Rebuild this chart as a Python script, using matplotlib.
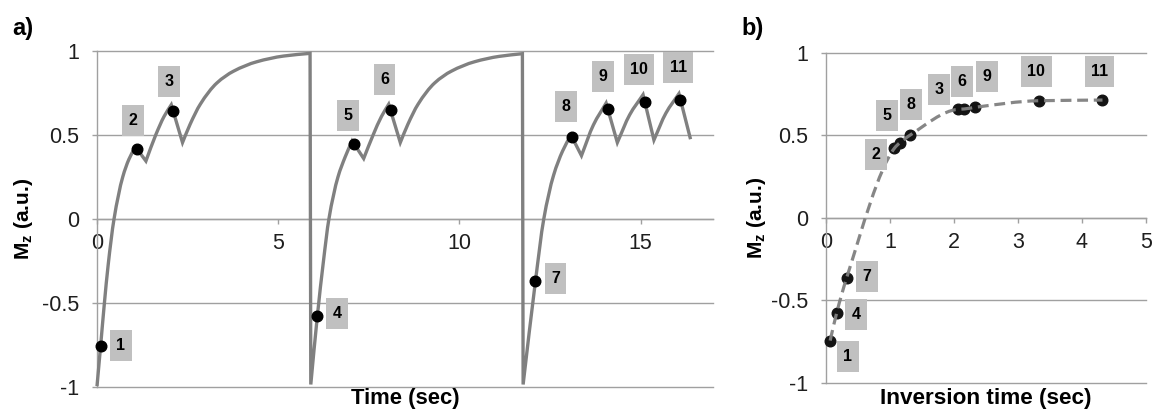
import matplotlib
matplotlib.use('Agg')
import matplotlib.pyplot as plt
from matplotlib.path import Path
from matplotlib.patches import PathPatch
import numpy as np

plt.rcParams['font.family'] = ['Liberation Sans', 'DejaVu Sans']
plt.rcParams['mathtext.fontset'] = 'custom'
plt.rcParams['mathtext.rm'] = 'Liberation Sans'
plt.rcParams['mathtext.bf'] = 'Liberation Sans:bold'
plt.rcParams['mathtext.it'] = 'Liberation Sans:italic'
plt.rcParams['axes.unicode_minus'] = False

# ---------------- data ----------------
# Panel a: simulated longitudinal magnetisation over three inversion cycles
curve_time = [0.0, 0.1, 0.2, 0.31, 0.47, 0.71, 0.88, 1.06, 1.35, 1.62, 1.85, 2.05, 2.36, 2.57, 2.85,
              3.31, 3.77, 4.41, 5.15, 5.88,
              5.9, 6.08, 6.25, 6.40, 6.65, 6.85, 7.04, 7.36, 7.62, 7.85, 8.05, 8.37, 8.58, 8.86,
              9.32, 9.78, 10.42, 11.1, 11.74,
              11.76, 12.1, 12.33, 12.6, 12.85, 13.08, 13.37, 13.7, 14.05, 14.36, 14.7, 15.07,
              15.37, 15.7, 16.06, 16.38]
curve_mz = [-0.995, -0.755, -0.51, -0.27, 0.0, 0.25, 0.355, 0.43, 0.345, 0.5, 0.61, 0.68, 0.455, 0.564, 0.683,
            0.81, 0.88, 0.936, 0.97, 0.986,
            -0.985, -0.58, -0.25, 0.0, 0.25, 0.37, 0.465, 0.36, 0.5, 0.61, 0.683, 0.455, 0.564, 0.683,
            0.81, 0.88, 0.936, 0.968, 0.984,
            -0.985, -0.37, 0.0, 0.26, 0.405, 0.50, 0.377, 0.56, 0.69, 0.455, 0.62, 0.74,
            0.47, 0.63, 0.746, 0.475]

sample_time = [0.1, 1.1, 2.1, 6.08, 7.1, 8.1, 12.1, 13.11, 14.1, 15.12, 16.1]
sample_mz = [-0.755, 0.418, 0.644, -0.58, 0.445, 0.647, -0.37, 0.487, 0.652, 0.695, 0.71]
sample_labels = ['1', '2', '3', '4', '5', '6', '7', '8', '9', '10', '11']

# Panel b: samples sorted by inversion time
inv_time = [0.065, 0.167, 0.323, 1.067, 1.156, 1.312, 2.067, 2.16, 2.33, 3.33, 4.32]
inv_mz = [-0.745, -0.576, -0.364, 0.42, 0.455, 0.50, 0.657, 0.659, 0.669, 0.709, 0.713]
inv_labels = ['1', '4', '7', '2', '5', '8', '3', '6', '9', '10', '11']

yticks = [-1, -0.5, 0, 0.5, 1]
ytick_labels = ['-1', '-0.5', '0', '0.5', '1']
xticks_a = [0, 5, 10, 15]
xticks_b = [0, 1, 2, 3, 4, 5]

# ---------------- layout / style ----------------
label_off_a = [(20, 0), (-4, 28), (-4, 29.5), (20, 3), (-6.5, 29), (-6, 31),
               (20, 3), (-6, 30.5), (-5, 33), (-6, 32.6), (-2, 32)]
label_off_b = [(17.5, -15.5), (19.7, -2), (20.6, 1.3), (-18.6, -6), (-13.3, 27), (1, 30.7),
               (-19.3, 20), (-2, 27.7), (11.7, 30.6), (-2.8, 29.4), (-3, 28.7)]

W, H = 1154, 411
DPI = 100
GRID = '#a0a0a0'
CURVE = '#808080'
BOX = '#c0c0c0'
TXT = '#1e1e1e'

fig = plt.figure(figsize=(W / DPI, H / DPI), dpi=DPI)
ax_a = fig.add_axes([97 / W, 1 - 387 / H, 616 / W, 336 / H])
ax_b = fig.add_axes([826 / W, 1 - 382.7 / H, 320 / W, 330 / H])


def fixed_box(x0, y0, width, height, mutation_size):
    px = 0.40 * mutation_size
    hh = 1.95 * mutation_size
    cy = y0 + height / 2.0
    bx0, bx1 = x0 - px, x0 + width + px
    by0, by1 = cy - hh / 2.0, cy + hh / 2.0
    return Path([(bx0, by0), (bx1, by0), (bx1, by1), (bx0, by1), (bx0, by0)],
                [Path.MOVETO, Path.LINETO, Path.LINETO, Path.LINETO, Path.CLOSEPOLY])


def style_axes(ax, xlim, xticks):
    ax.set_xlim(*xlim)
    ax.set_ylim(-1, 1)
    ax.set_yticks(yticks)
    ax.set_yticklabels(ytick_labels)
    ax.set_xticks(xticks)
    ax.set_xticklabels([str(t) for t in xticks])
    for s in ['top', 'right']:
        ax.spines[s].set_visible(False)
    ax.spines['bottom'].set_position(('data', 0))
    ax.spines['bottom'].set_color(GRID)
    ax.spines['left'].set_color(GRID)
    ax.spines['bottom'].set_linewidth(1.0)
    ax.spines['left'].set_linewidth(1.0)
    for y in yticks:
        ax.axhline(y, color=GRID, lw=1.0, zorder=0.5, clip_on=False)
    ax.tick_params(axis='both', direction='out', length=3.6, width=1.0, color=GRID,
                   labelsize=15.5, labelcolor=TXT)
    ax.tick_params(axis='x', pad=6.5)
    ax.tick_params(axis='y', pad=9)
    ax.set_facecolor('none')


def add_labels(ax, xs, ys, labels, offsets):
    for x, y, lab, (dx, dy) in zip(xs, ys, labels, offsets):
        ax.annotate(lab, xy=(x, y), xytext=(dx, dy), textcoords='offset pixels',
                    ha='center', va='center', fontsize=11.5, fontweight='bold', color='black',
                    bbox=dict(boxstyle=fixed_box, fc=BOX, ec='none'), zorder=6,
                    annotation_clip=False)


def bezier_piece(x, y):
    """Monotone cubic Bezier segments through one monotone run of points."""
    x = np.asarray(x, float)
    y = np.asarray(y, float)
    n = len(x)
    h = np.diff(x)
    d = np.diff(y) / np.where(h == 0, 1e-9, h)
    m = np.zeros(n)
    m[0], m[-1] = d[0], d[-1]
    for k in range(1, n - 1):
        if d[k - 1] * d[k] <= 0:
            m[k] = 0.0
        else:
            w1 = 2 * h[k] + h[k - 1]
            w2 = h[k] + 2 * h[k - 1]
            m[k] = (w1 + w2) / (w1 / d[k - 1] + w2 / d[k])
    verts, codes = [], []
    for k in range(n - 1):
        if n == 2:
            verts.append((x[k + 1], y[k + 1]))
            codes.append(Path.LINETO)
            continue
        verts += [(x[k] + h[k] / 3, y[k] + m[k] * h[k] / 3),
                  (x[k + 1] - h[k] / 3, y[k + 1] - m[k + 1] * h[k] / 3),
                  (x[k + 1], y[k + 1])]
        codes += [Path.CURVE4] * 3
    return verts, codes


def smooth_path(xs, ys, split_extrema=False):
    x = np.asarray(xs, float)
    y = np.asarray(ys, float)
    breaks = [0]
    if split_extrema:
        dy = np.diff(y)
        for k in range(1, len(y) - 1):
            if dy[k - 1] * dy[k] < 0:
                breaks.append(k)
    breaks.append(len(y) - 1)
    verts = [(x[0], y[0])]
    codes = [Path.MOVETO]
    for a, b in zip(breaks[:-1], breaks[1:]):
        v, c = bezier_piece(x[a:b + 1], y[a:b + 1])
        verts += v
        codes += c
    return Path(verts, codes)


# ---------------- panel a ----------------
style_axes(ax_a, (0, 17), xticks_a)
curve_patch = PathPatch(smooth_path(curve_time, curve_mz, split_extrema=True), fc='none',
                        ec=CURVE, lw=2.4, zorder=3, clip_on=False, joinstyle='miter')
ax_a.add_patch(curve_patch)
ax_a.scatter(sample_time, sample_mz, s=58, color='black', zorder=4, clip_on=False)
add_labels(ax_a, sample_time, sample_mz, sample_labels, label_off_a)
ax_a.set_xlabel('Time (sec)', fontsize=15.8, fontweight='bold', color='black')
ax_a.xaxis.set_label_coords(0.5, -0.004)
ax_a.set_ylabel(r'$\mathbf{M_z}$ (a.u.)', fontsize=15, fontweight='bold', color='black')
ax_a.yaxis.set_label_coords(-0.1, 0.5)

# ---------------- panel b ----------------
style_axes(ax_b, (0, 5), xticks_b)
ax_b.scatter(inv_time, inv_mz, s=58, color='#141414', zorder=3, clip_on=False)
patch = PathPatch(smooth_path(inv_time, inv_mz), fc='none', ec=CURVE, lw=2.3, zorder=4,
                  linestyle=(0, (3.4, 1.8)), alpha=0.95)
ax_b.add_patch(patch)
add_labels(ax_b, inv_time, inv_mz, inv_labels, label_off_b)
ax_b.set_xlabel('Inversion time (sec)', fontsize=16.2, fontweight='bold', color='black')
ax_b.xaxis.set_label_coords(0.5, -0.016)
ax_b.set_ylabel(r'$\mathbf{M_z}$ (a.u.)', fontsize=15, fontweight='bold', color='black')
ax_b.yaxis.set_label_coords(-0.18, 0.5)

fig.text(12 / W, 1 - 35 / H, 'a)', fontsize=17, fontweight='bold', va='baseline', ha='left')
fig.text(741 / W, 1 - 35 / H, 'b)', fontsize=17, fontweight='bold', va='baseline', ha='left')

fig.savefig('out.png', dpi=DPI, facecolor='white')
